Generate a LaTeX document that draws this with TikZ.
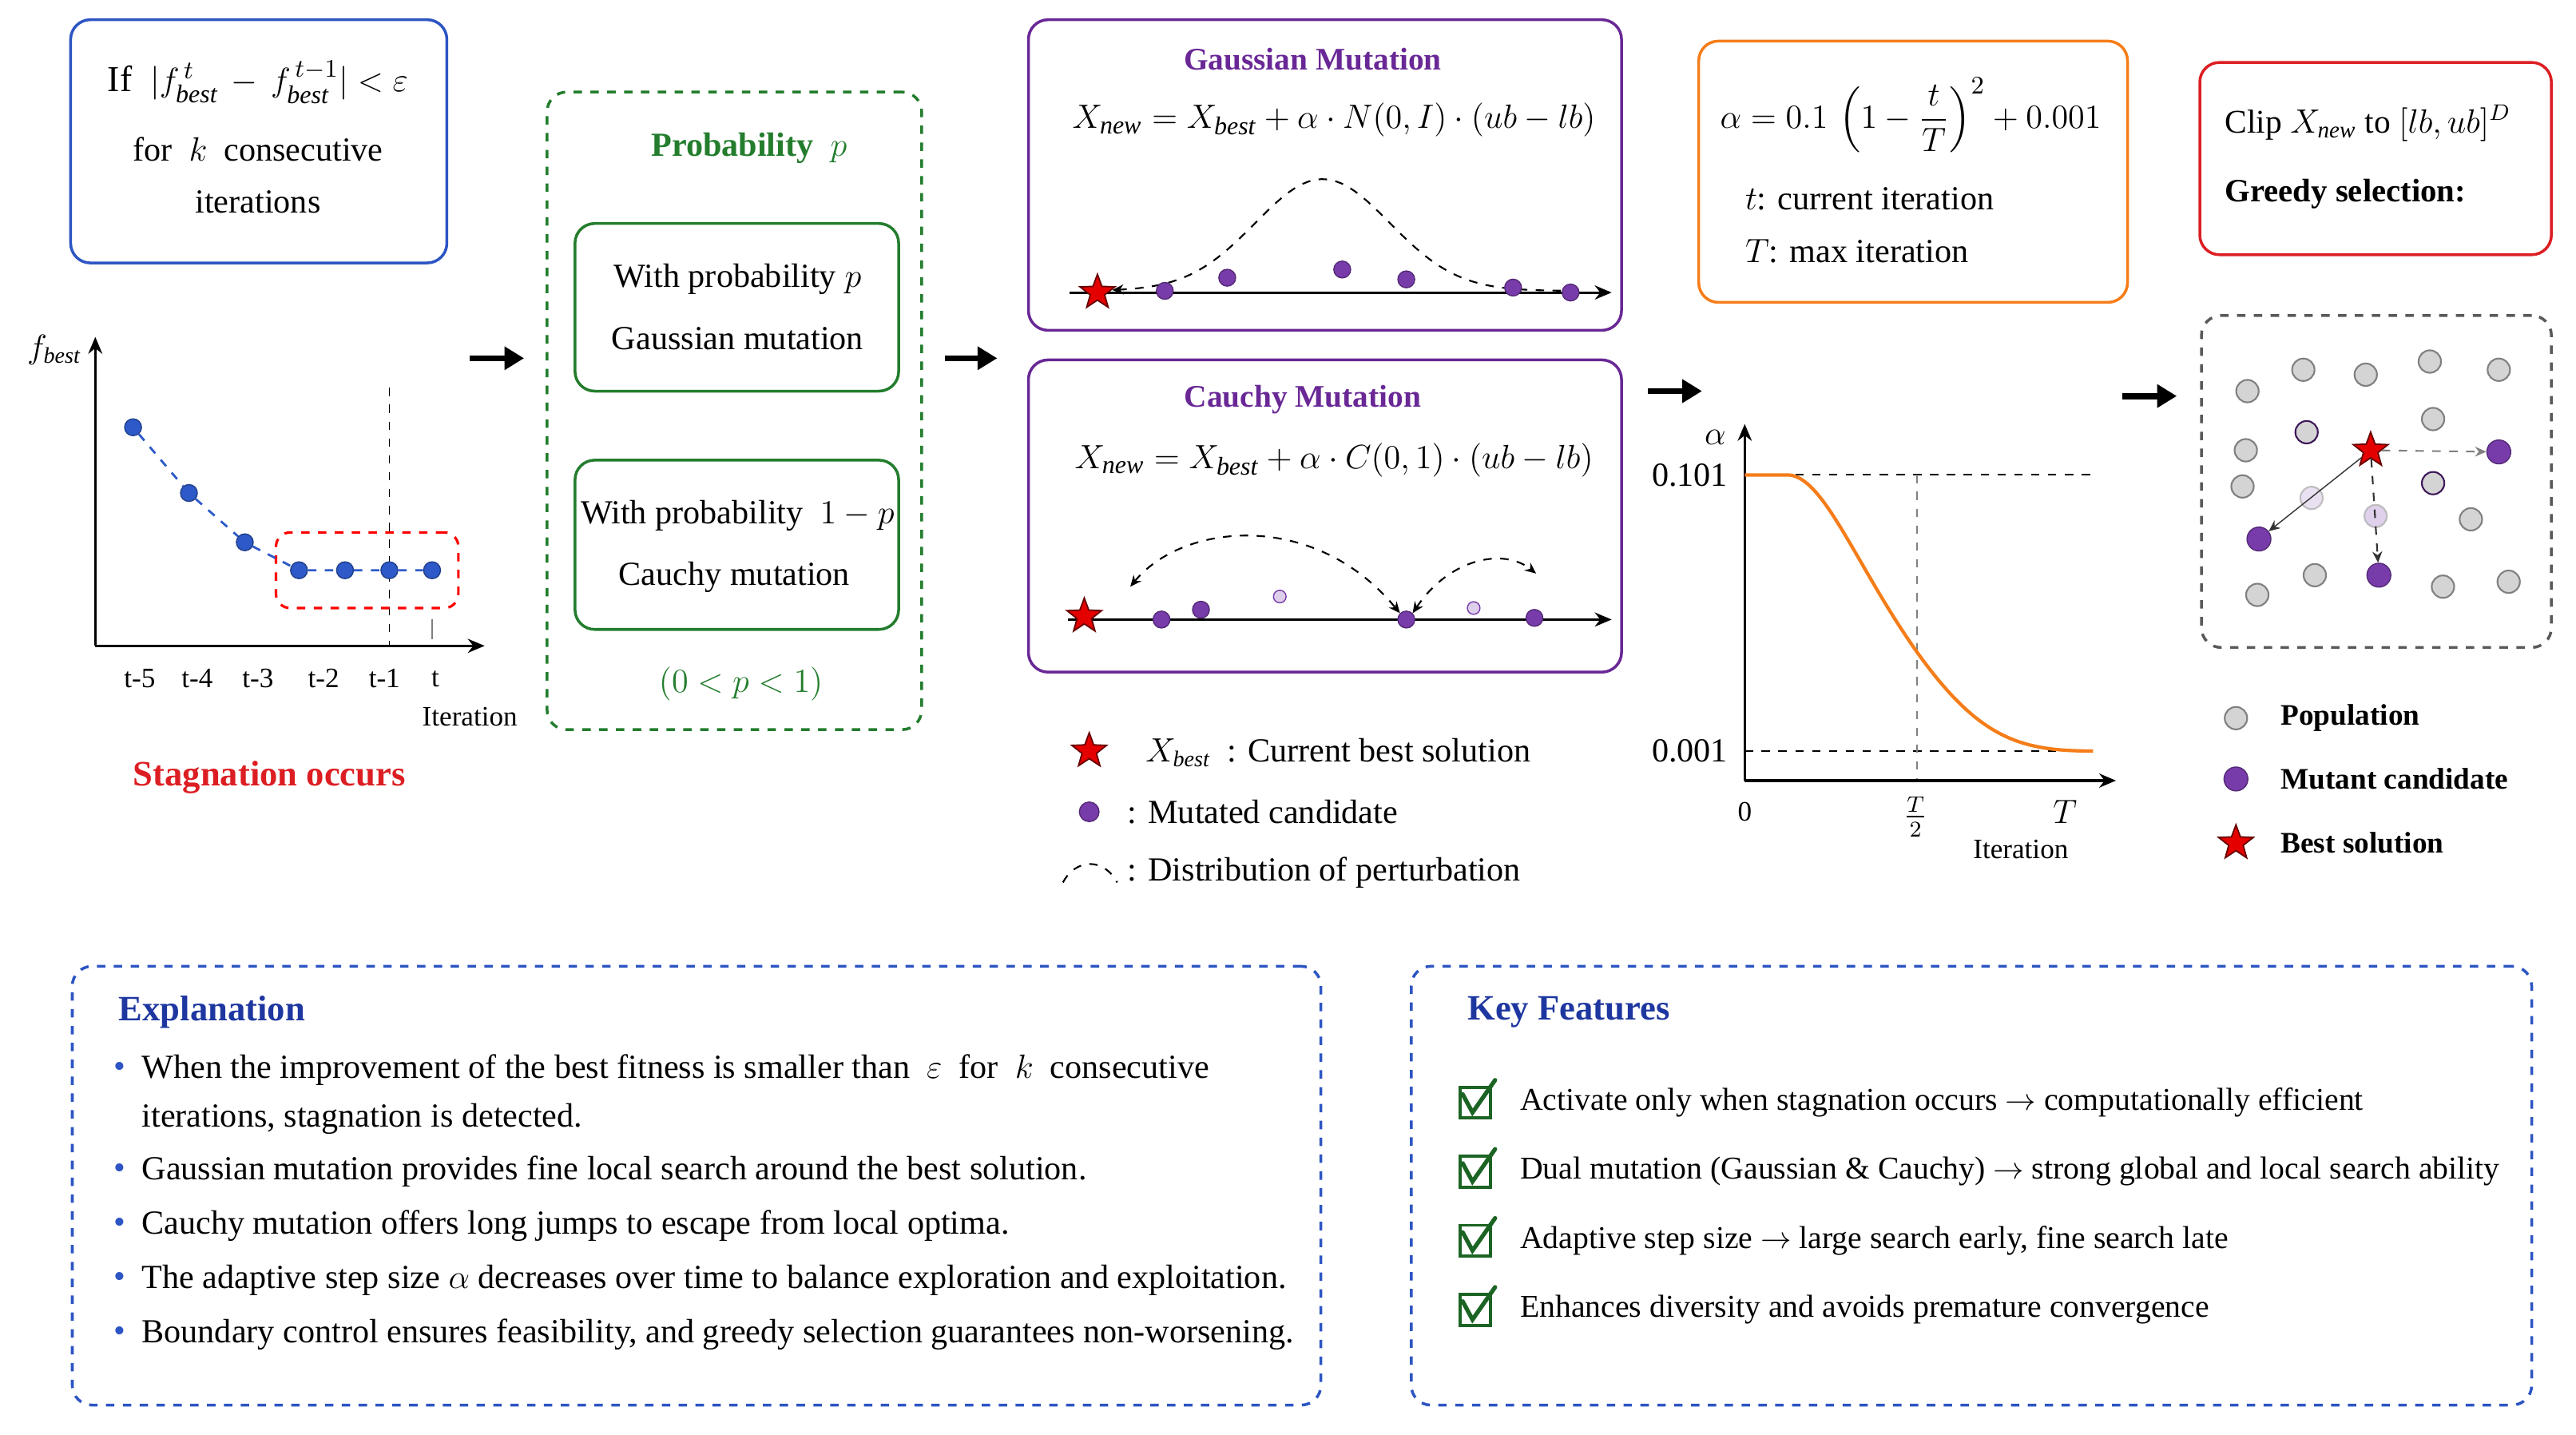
\documentclass[tikz,border=0pt]{standalone}
\usepackage{amsmath}
\usepackage{amssymb}
\usepackage{fontspec}
\setmainfont{Liberation Serif}
\usepackage{tikz}
\usetikzlibrary{arrows.meta,shapes.geometric,positioning,fit}

\definecolor{boxblue}{RGB}{45,85,195}
\definecolor{headblue}{RGB}{30,55,160}
\definecolor{probgreen}{RGB}{35,125,45}
\definecolor{mutpurple}{RGB}{105,40,150}
\definecolor{dotpurple}{RGB}{120,60,170}
\definecolor{alphaorange}{RGB}{245,125,25}
\definecolor{clipred}{RGB}{220,30,35}
\definecolor{popgray}{RGB}{212,212,212}
\definecolor{dotblue}{RGB}{45,90,200}

\newcommand{\fbest}{f_{\mathit{best}}}
\newcommand{\Xnew}{X_{\mathit{new}}}
\newcommand{\Xbest}{X_{\mathit{best}}}
\newcommand{\bodyfont}{\fontsize{12}{14}\selectfont}
\newcommand{\keyfont}{\fontsize{11.3}{13}\selectfont}
\newcommand{\smallfont}{\fontsize{10}{12}\selectfont}
\newcommand{\headfont}{\bfseries\fontsize{12.7}{15}\selectfont}
\newcommand{\titlefont}{\bfseries\fontsize{11.2}{13}\selectfont}
\newcommand{\formfont}{\fontsize{13}{15}\selectfont}
\newcommand{\kfcheck}[3]{\node[chk] (#1) at (#2,#3) {};
  \draw[probgreen!80!black, line width=1.5pt, line cap=round] ([xshift=-4.5pt,yshift=3pt]#1.center) -- ([xshift=-1pt,yshift=-3.5pt]#1.center) -- ([xshift=1pt,yshift=2pt]#1.north east)}

\tikzset{
  panel/.style={draw, rounded corners=7pt, line width=1pt, inner sep=0pt},
  bigarrow/.style={-{Triangle[length=7pt,width=8pt]}, line width=2.2pt},
  axisline/.style={-{Stealth[length=6pt,width=5pt]}, line width=0.9pt},
  guide/.style={dashed, line width=0.6pt},
  bdot/.style={circle, fill=dotblue, draw=dotblue!70!black, minimum size=6pt},
  mdot/.style={circle, fill=dotpurple, draw=dotpurple!70!black, minimum size=6pt},
  ghostdot/.style={circle, fill=dotpurple!25, draw=dotpurple, minimum size=4.5pt},
  pdot/.style={circle, fill=popgray, draw=gray, line width=0.6pt, minimum size=8pt},
  bigmdot/.style={mdot, minimum size=8.5pt},
  beststar/.style={star, star points=5, star point ratio=2.4, fill=red!90!black, draw=red!40!black, line width=0.5pt, minimum size=13pt},
  chk/.style={draw=probgreen!80!black, line width=1.1pt, minimum size=11pt},
}

\begin{document}
\begin{tikzpicture}[x=0.02057cm, y=-0.02057cm, inner sep=0pt, font=\bodyfont]
    \useasboundingbox (0,0) rectangle (1568,873);
    % stagnation test
    \node[panel, draw=boxblue, fit={(43,12) (272,160)}] (stagbox) {};
    \node[font=\formfont] (stag1) at (157,50) {If \ $|\fbest^{\,t}\, - \,\fbest^{\,t-1}| < \varepsilon$};
    \node (stag2) at (157,91) {for \ $k$ \ consecutive};
    \node (stag3) at (157,123) {iterations};
    % fitness history
    \draw[axisline] (58,393) -- (58,205);
    \draw[axisline] (58,393) -- (295,393);
    \node (fblab) at (33,213) {$\fbest$};
    \draw[guide, line width=0.5pt] (237,236) -- (237,393);
    \draw[gray, line width=0.5pt] (263,377) -- (263,389);
    \foreach \lab/\x in {t-5/85, t-4/120, t-3/157, t-2/197, t-1/234, t/265}
        \node[font=\smallfont] (tick-\x) at (\x,413) {\lab};
    \node[font=\smallfont] (iterlab) at (286,436) {Iteration};
    \node[draw=red, dashed, line width=0.9pt, rounded corners=5pt, fit={(168,324) (279,370)}] (window) {};
    \foreach \i/\x/\y in {1/81/260, 2/115/300, 3/149/330, 4/182/347, 5/210/347, 6/237/347, 7/263/347}
        \node[bdot] (p\i) at (\x,\y) {};
    \draw[dotblue, dashed, line width=0.8pt] (p1) -- (p2) -- (p3) -- (p4) -- (p5) -- (p6) -- (p7);
    \node[text=clipred, font=\headfont] (stagtxt) at (164,473) {Stagnation occurs};
    % flow arrows
    \coordinate (ar1a) at (286,218); \coordinate (ar1b) at (319,218);
    \coordinate (ar2a) at (575,218); \coordinate (ar2b) at (607,218);
    \coordinate (ar3a) at (1003,238); \coordinate (ar3b) at (1036,238);
    \coordinate (ar4a) at (1292,241); \coordinate (ar4b) at (1325,241);
    \foreach \a in {1,2,3,4}
        \draw[bigarrow] (ar\a a) -- (ar\a b);
    % probability switch
    \node[panel, draw=probgreen, dashed, fit={(333,56) (561,444)}] (probbox) {};
    \node[text=probgreen, font=\bfseries\bodyfont] (probtitle) at (456,90) {Probability \ $p$};
    \node[panel, draw=probgreen, fit={(350,136) (547,238)}] (gbox) {};
    \node (gbox1) at (449,170) {With probability $p$};
    \node (gbox2) at (449,206) {Gaussian mutation};
    \node[panel, draw=probgreen, fit={(350,280) (547,383)}] (cbox) {};
    \node (cbox1) at (449,314) {With probability \ $1-p$};
    \node (cbox2) at (447,351) {Cauchy mutation};
    \node[text=probgreen, font=\formfont] (prange) at (451,416) {$(0<p<1)$};
    % gaussian mutation
    \node[panel, draw=mutpurple, fit={(626,12) (987,201)}] (gpanel) {};
    \node[text=mutpurple, font=\titlefont] (gtitle) at (799,36) {Gaussian Mutation};
    \node[font=\formfont] (gform) at (812,73) {$\Xnew = \Xbest + \alpha\cdot N(0,I)\cdot(ub-lb)$};
    \coordinate (gax0) at (651,178); \coordinate (gax1) at (981,178);
    \draw[axisline] (gax0) -- (gax1);
    \draw[guide, {Stealth[length=4pt,width=3.5pt]}-] plot[domain=677:952, samples=70] (\x, {177-68*exp(-(((\x-805)/58)^2))});
    \foreach \i/\x/\y in {1/709/177, 2/747/169, 3/817/164, 4/856/170, 5/921/175, 6/956/178}
        \node[mdot] (gm\i) at (\x,\y) {};
    \node[beststar] (gstar) at (668,178) {};
    % cauchy mutation
    \node[panel, draw=mutpurple, fit={(626,219) (987,409)}] (cpanel) {};
    \node[text=mutpurple, font=\titlefont] (ctitle) at (793,243) {Cauchy Mutation};
    \node[font=\formfont] (cform) at (812,280) {$\Xnew = \Xbest + \alpha\cdot C(0,1)\cdot(ub-lb)$};
    \coordinate (cax0) at (650,377); \coordinate (cax1) at (981,377);
    \draw[axisline] (cax0) -- (cax1);
    \foreach \i/\x/\y in {1/707/377, 2/731/371, 4/856/377, 6/934/376}
        \node[mdot] (cm\i) at (\x,\y) {};
    \node[ghostdot] (cm3) at (779,363) {};
    \node[ghostdot] (cm5) at (897,370) {};
    \node[beststar] (cstar) at (660,375) {};
    \coordinate (jmpl) at (688,357);
    \coordinate (jmpr) at (935,349);
    \draw[guide, {Stealth[length=4pt,width=3.5pt]}-{Stealth[length=4pt,width=3.5pt]}] (jmpl) .. controls (720,318) and (800,310) .. (cm4.north west);
    \draw[guide, {Stealth[length=4pt,width=3.5pt]}-{Stealth[length=4pt,width=3.5pt]}] (cm4.north east) .. controls (882,340) and (915,333) .. (jmpr);
    % legend of mutation panels
    \node[beststar] (lstar) at (663,457) {};
    \node[anchor=west] (lstartxt) at (697,458) {$\Xbest$ \ : Current best solution};
    \node[mdot, minimum size=7pt] (ldot) at (663,494) {};
    \node[anchor=west] (ldottxt) at (686,494) {: Mutated candidate};
    \draw[guide] (647,537) .. controls (655,522) and (672,522) .. (680,537);
    \node[anchor=west] (lcurvetxt) at (686,531) {: Distribution of perturbation};
    % step size
    \node[panel, draw=alphaorange, fit={(1034,25) (1295,184)}] (apanel) {};
    \node[font=\formfont] (aform) at (1163,70) {$\alpha = 0.1\,\left(1-\dfrac{t}{T}\right)^{2} + 0.001$};
    \node[anchor=west] (adesc1) at (1062,121) {$t$: current iteration};
    \node[anchor=west] (adesc2) at (1062,153) {$T$: max iteration};
    \coordinate (ao) at (1062,475);
    \draw[guide] (1062,289) -- (1274,289);
    \draw[guide] (1062,457) -- (1274,457);
    \draw[guide, gray, line width=0.5pt] (1167,289) -- (1167,475);
    \draw[axisline] (ao) -- (1062,258);
    \draw[axisline] (ao) -- (1288,475);
    \draw[alphaorange, line width=1.2pt] (1062,289) -- (1088,289) .. controls (1110,289) and (1130,345) .. (1167,397) .. controls (1205,450) and (1230,457) .. (1274,457);
    \node (alab) at (1044,266) {$\alpha$};
    \node[anchor=east] (amax) at (1052,289) {0.101};
    \node[anchor=east] (amin) at (1052,457) {0.001};
    \node[font=\smallfont] (azero) at (1062,494) {0};
    \node (ahalf) at (1166,497) {$\frac{T}{2}$};
    \node (aend) at (1257,494) {$T$};
    \node[font=\smallfont] (aiter) at (1230,517) {Iteration};
    % boundary and selection
    \node[panel, draw=clipred, fit={(1339,38) (1553,155)}] (clippanel) {};
    \node[anchor=west, font=\fontsize{11.8}{14}\selectfont] (clip1) at (1354,75) {Clip $\Xnew$ to $[lb,ub]^{D}$};
    \node[anchor=west, font=\bfseries\fontsize{11.6}{14}\selectfont] (clip2) at (1354,118) {Greedy selection:};
    \node[panel, draw=gray!70!black, dashed, fit={(1340,192) (1553,394)}] (poppanel) {};
    \foreach \i/\x/\y in {1/1368/238, 2/1402/225, 3/1440/228, 4/1479/220, 5/1521/225, 6/1481/255,
        7/1367/274, 8/1365/296, 9/1504/316, 10/1409/350, 11/1374/362, 12/1487/357, 13/1527/354}
        \node[pdot] (pop\i) at (\x,\y) {};
    \node[pdot, draw=mutpurple!60!black] (pop14) at (1404,263) {};
    \node[pdot, draw=mutpurple!60!black] (pop15) at (1481,294) {};
    \node[pdot, fill=dotpurple!20, draw=gray!60, opacity=0.8] (pop16) at (1407,303) {};
    \node[pdot, fill=dotpurple!30, draw=gray!60, opacity=0.8] (pop17) at (1446,314) {};
    \node[bigmdot] (mut1) at (1521,275) {};
    \node[bigmdot] (mut2) at (1375,328) {};
    \node[bigmdot] (mut3) at (1448,350) {};
    \node[beststar] (best) at (1443,274) {};
    \draw[gray, dashed, line width=0.6pt, -{Stealth[length=4pt,width=3.5pt]}] (best) -- (mut1);
    \draw[gray!40!black, line width=0.4pt, -{Stealth[length=4pt,width=3.5pt]}] (best) -- (mut2);
    \draw[gray!40!black, dashed, line width=0.6pt, -{Stealth[length=4pt,width=3.5pt]}] (best) -- (mut3);
    \node[pdot] (lpop) at (1361,437) {};
    \node[anchor=west, font=\bfseries\fontsize{10.6}{13}\selectfont] (lpoptxt) at (1388,437) {Population};
    \node[bigmdot] (lmut) at (1361,474) {};
    \node[anchor=west, font=\bfseries\fontsize{10.6}{13}\selectfont] (lmuttxt) at (1388,474) {Mutant candidate};
    \node[beststar] (lbest) at (1361,513) {};
    \node[anchor=west, font=\bfseries\fontsize{10.6}{13}\selectfont] (lbesttxt) at (1388,513) {Best solution};
    % explanation
    \node[panel, draw=boxblue, dashed, fit={(44,588) (804,855)}] (explpanel) {};
    \node[anchor=west, text=headblue, font=\headfont] (expltitle) at (72,616) {Explanation};
    \foreach \i/\y in {1/651, 2/713, 3/746, 4/779, 5/812}
        \node[text=boxblue] (bul\i) at (73,\y) {\textbullet};
    \node[anchor=west] (expl1) at (86,651) {When the improvement of the best fitness is smaller than \ $\varepsilon$ \ for \ $k$ \ consecutive};
    \node[anchor=west] (expl1b) at (86,681) {iterations, stagnation is detected.};
    \node[anchor=west] (expl2) at (86,713) {Gaussian mutation provides fine local search around the best solution.};
    \node[anchor=west] (expl3) at (86,746) {Cauchy mutation offers long jumps to escape from local optima.};
    \node[anchor=west] (expl4) at (86,779) {The adaptive step size $\alpha$ decreases over time to balance exploration and exploitation.};
    \node[anchor=west] (expl5) at (86,812) {Boundary control ensures feasibility, and greedy selection guarantees non-worsening.};
    % key features
    \node[panel, draw=boxblue, dashed, fit={(859,588) (1541,855)}] (keypanel) {};
    \node[anchor=west, text=headblue, font=\headfont] (keytitle) at (893,616) {Key Features};
    \kfcheck{chk1}{898}{671};
    \kfcheck{chk2}{898}{713};
    \kfcheck{chk3}{898}{755};
    \kfcheck{chk4}{898}{797};
    \node[anchor=west, font=\keyfont] (key1) at (925,671) {Activate only when stagnation occurs $\rightarrow$ computationally efficient};
    \node[anchor=west, font=\keyfont] (key2) at (925,713) {Dual mutation (Gaussian \& Cauchy) $\rightarrow$ strong global and local search ability};
    \node[anchor=west, font=\keyfont] (key3) at (925,755) {Adaptive step size $\rightarrow$ large search early, fine search late};
    \node[anchor=west, font=\keyfont] (key4) at (925,797) {Enhances diversity and avoids premature convergence};
\end{tikzpicture}
\end{document}
